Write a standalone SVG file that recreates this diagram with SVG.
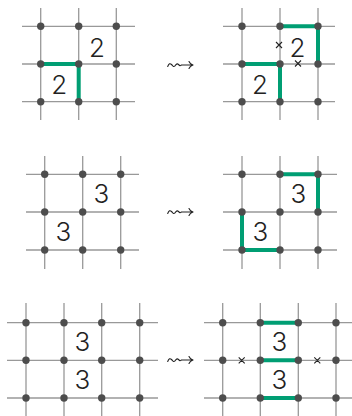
<svg xmlns="http://www.w3.org/2000/svg" width="352" height="416" viewBox="0 0 352 416">
<style>
.g{stroke:#999;stroke-width:1.3;fill:none}
.d{fill:#4d4d4d}
.p{stroke:#009E73;stroke-width:4;fill:none;stroke-linejoin:miter;stroke-linecap:butt}
.n{font-family:Inter,"Liberation Sans",sans-serif;font-size:26px;font-weight:300;fill:#222;text-anchor:middle}
.x{stroke:#222;stroke-width:1.1}
.sq{stroke:#222;stroke-width:1.1;fill:none;stroke-linecap:round;stroke-linejoin:round}
</style>
<defs>
<path id="squig" class="sq" d="M167.7 1.5C169 -1.5 170 -2 171.5 -0.5S173.5 2.3 175 0.8S177 -2 178.5 -0.5S180 1 181.5 0H193M189 -3.5Q190 -1 193 0Q190 1 189 3.5"/>
</defs>
<rect width="352" height="416" fill="#fff"/>
<g id="grid-top-left">
<path class="g" d="M22 26.3H135M22 64H135M22 101.7H135M40.7 8V120M78.7 8V120M116.3 8V120"/>
<polyline class="p" points="40.7,64 78.7,64 78.7,101.7"/>
<g class="d"><circle cx="40.7" cy="26.3" r="3.7"/><circle cx="78.7" cy="26.3" r="3.7"/><circle cx="116.3" cy="26.3" r="3.7"/><circle cx="40.7" cy="64" r="3.7"/><circle cx="78.7" cy="64" r="3.7"/><circle cx="116.3" cy="64" r="3.7"/><circle cx="40.7" cy="101.7" r="3.7"/><circle cx="78.7" cy="101.7" r="3.7"/><circle cx="116.3" cy="101.7" r="3.7"/></g>
<text class="n" x="97" y="56.7">2</text>
<text class="n" x="59.3" y="94.2">2</text>
</g>
<g id="grid-top-right">
<path class="g" d="M223 26.3H335M223 64H335M223 101.7H335M242 8V120M280 8V120M318 8V120"/>
<polyline class="p" points="242,64 280,64 280,101.7"/>
<polyline class="p" points="280,26.3 318,26.3 318,64"/>
<g class="d"><circle cx="242" cy="26.3" r="3.7"/><circle cx="280" cy="26.3" r="3.7"/><circle cx="318" cy="26.3" r="3.7"/><circle cx="242" cy="64" r="3.7"/><circle cx="280" cy="64" r="3.7"/><circle cx="318" cy="64" r="3.7"/><circle cx="242" cy="101.7" r="3.7"/><circle cx="280" cy="101.7" r="3.7"/><circle cx="318" cy="101.7" r="3.7"/></g>
<path class="x" d="M276 42L282 48M282 42L276 48M295 60.5L301 66.5M301 60.5L295 66.5"/>
<text class="n" x="297.5" y="56.7">2</text>
<text class="n" x="260" y="94.2">2</text>
</g>
<g id="grid-mid-left">
<path class="g" d="M26 174.3H139M26 212H139M26 250H139M44.7 156V269M82.7 156V269M120.7 156V269"/>
<g class="d"><circle cx="44.7" cy="174.3" r="3.7"/><circle cx="82.7" cy="174.3" r="3.7"/><circle cx="120.7" cy="174.3" r="3.7"/><circle cx="44.7" cy="212" r="3.7"/><circle cx="82.7" cy="212" r="3.7"/><circle cx="120.7" cy="212" r="3.7"/><circle cx="44.7" cy="250" r="3.7"/><circle cx="82.7" cy="250" r="3.7"/><circle cx="120.7" cy="250" r="3.7"/></g>
<text class="n" x="101.5" y="202.9">3</text>
<text class="n" x="63.5" y="240.6">3</text>
</g>
<g id="grid-mid-right">
<path class="g" d="M223 174.3H337M223 212H337M223 250H337M242 156V269M280 156V269M318 156V269"/>
<polyline class="p" points="280,174.3 318,174.3 318,212"/>
<polyline class="p" points="242,212 242,250 280,250"/>
<g class="d"><circle cx="242" cy="174.3" r="3.7"/><circle cx="280" cy="174.3" r="3.7"/><circle cx="318" cy="174.3" r="3.7"/><circle cx="242" cy="212" r="3.7"/><circle cx="280" cy="212" r="3.7"/><circle cx="318" cy="212" r="3.7"/><circle cx="242" cy="250" r="3.7"/><circle cx="280" cy="250" r="3.7"/><circle cx="318" cy="250" r="3.7"/></g>
<text class="n" x="298.5" y="202.9">3</text>
<text class="n" x="260.5" y="240.6">3</text>
</g>
<g id="grid-bottom-left">
<path class="g" d="M7 322.7H158M7 360.3H158M7 398H158M26 303V416M64 303V416M101.7 303V416M139.7 303V416"/>
<g class="d"><circle cx="26" cy="322.7" r="3.7"/><circle cx="64" cy="322.7" r="3.7"/><circle cx="101.7" cy="322.7" r="3.7"/><circle cx="139.7" cy="322.7" r="3.7"/><circle cx="26" cy="360.3" r="3.7"/><circle cx="64" cy="360.3" r="3.7"/><circle cx="101.7" cy="360.3" r="3.7"/><circle cx="139.7" cy="360.3" r="3.7"/><circle cx="26" cy="398" r="3.7"/><circle cx="64" cy="398" r="3.7"/><circle cx="101.7" cy="398" r="3.7"/><circle cx="139.7" cy="398" r="3.7"/></g>
<text class="n" x="82.5" y="350.8">3</text>
<text class="n" x="82.5" y="388.5">3</text>
</g>
<g id="grid-bottom-right">
<path class="g" d="M204 322.7H355M204 360.3H355M204 398H355M222.7 303V416M260.3 303V416M298.3 303V416M336 303V416"/>
<polyline class="p" points="260.3,322.7 298.3,322.7"/>
<polyline class="p" points="260.3,360.3 298.3,360.3"/>
<polyline class="p" points="260.3,398 298.3,398"/>
<g class="d"><circle cx="222.7" cy="322.7" r="3.7"/><circle cx="260.3" cy="322.7" r="3.7"/><circle cx="298.3" cy="322.7" r="3.7"/><circle cx="336" cy="322.7" r="3.7"/><circle cx="222.7" cy="360.3" r="3.7"/><circle cx="260.3" cy="360.3" r="3.7"/><circle cx="298.3" cy="360.3" r="3.7"/><circle cx="336" cy="360.3" r="3.7"/><circle cx="222.7" cy="398" r="3.7"/><circle cx="260.3" cy="398" r="3.7"/><circle cx="298.3" cy="398" r="3.7"/><circle cx="336" cy="398" r="3.7"/></g>
<path class="x" d="M238.7 357.3L244.7 363.3M244.7 357.3L238.7 363.3M314.3 357.3L320.3 363.3M320.3 357.3L314.3 363.3"/>
<text class="n" x="279.3" y="350.8">3</text>
<text class="n" x="279.3" y="388.5">3</text>
</g>
<g id="arrows">
<use href="#squig" transform="translate(0 65)"/>
<use href="#squig" transform="translate(0 212)"/>
<use href="#squig" transform="translate(0 360)"/>
</g>
</svg>
